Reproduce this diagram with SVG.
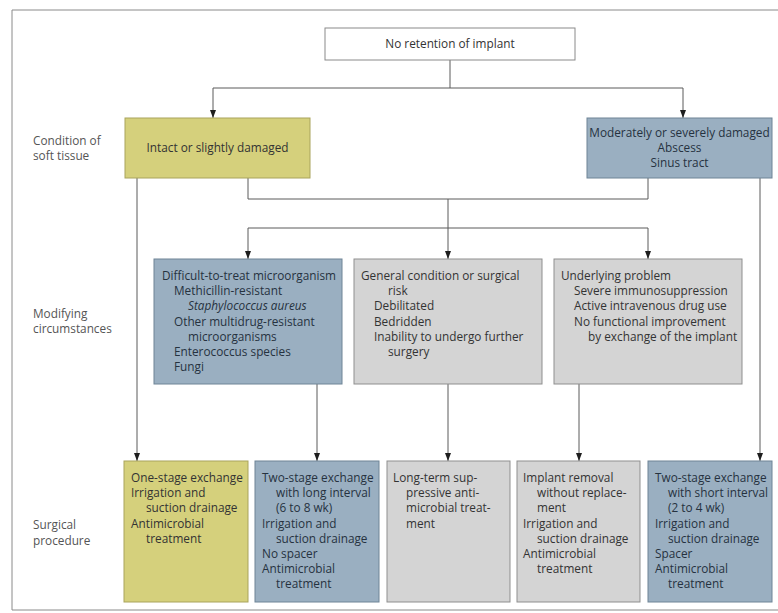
<svg xmlns="http://www.w3.org/2000/svg" width="778" height="613" viewBox="0 0 778 613">
<defs>
<marker id="ah" viewBox="0 0 8 6" refX="8" refY="3" markerWidth="8" markerHeight="6" orient="auto" markerUnits="userSpaceOnUse">
<path d="M0,0 L8,3 L0,6 Z" fill="#1e1e1e"/>
</marker>
<style>
text{font-family:"Open Sans","Noto Sans","DejaVu Sans",sans-serif;font-size:11.8px;fill:#333}
.lbl{fill:#555}
.c{text-anchor:middle}
.it{font-style:italic}
.white{fill:#fff;stroke:#8a8a8a;stroke-width:1}
.yel{fill:#d5d07c;stroke:#a9a45c;stroke-width:1}
.blu{fill:#9aafc1;stroke:#6e8496;stroke-width:1}
.gry{fill:#d4d4d4;stroke:#8f8f8f;stroke-width:1}
.bt{fill:#26323f}
.ln{fill:none;stroke:#5a5a5a;stroke-width:1}
.ar{marker-end:url(#ah)}
</style>
</defs>
<rect width="778" height="613" fill="#fff"/>
<path d="M780,10 H12 V610 H780" fill="none" stroke="#8a8a8a" stroke-width="1"/>

<g id="labels">
<text class="lbl" x="33" y="145">Condition of</text>
<text class="lbl" x="33" y="160">soft tissue</text>
<text class="lbl" x="33" y="318">Modifying</text>
<text class="lbl" x="33" y="333">circumstances</text>
<text class="lbl" x="33" y="529">Surgical</text>
<text class="lbl" x="33" y="545">procedure</text>
</g>

<g id="connectors">
<path class="ln" d="M450,60 V88"/>
<path class="ln" d="M213,88 H683"/>
<path class="ln ar" d="M213,88 V118"/>
<path class="ln ar" d="M683,88 V118"/>
<path class="ln" d="M248,178 V199 H648 V178"/>
<path class="ln" d="M448,199 V228"/>
<path class="ln" d="M248,228 H648"/>
<path class="ln ar" d="M248,228 V259"/>
<path class="ln ar" d="M448,228 V259"/>
<path class="ln ar" d="M648,228 V259"/>
<path class="ln ar" d="M137,178 V461"/>
<path class="ln ar" d="M760,178 V461"/>
<path class="ln ar" d="M317,384 V461"/>
<path class="ln ar" d="M448,384 V461"/>
<path class="ln ar" d="M579,384 V461"/>
</g>

<g id="n-top">
<rect class="white" x="325" y="28" width="250" height="32"/>
<text class="c" x="450" y="48">No retention of implant</text>
</g>

<g id="n-intact">
<rect class="yel" x="125" y="118" width="185" height="60"/>
<text class="c" x="217.5" y="152">Intact or slightly damaged</text>
</g>

<g id="n-damaged">
<rect class="blu" x="587" y="118" width="185" height="60"/>
<text class="c bt" x="679.5" y="137">Moderately or severely damaged</text>
<text class="c bt" x="679.5" y="152">Abscess</text>
<text class="c bt" x="679.5" y="167">Sinus tract</text>
</g>

<g id="n-micro">
<rect class="blu" x="154" y="259" width="188" height="125"/>
<text class="bt" x="162" y="280">Difficult-to-treat microorganism</text>
<text class="bt" x="174" y="295.2">Methicillin-resistant</text>
<text class="bt it" x="188" y="310.4">Staphylococcus aureus</text>
<text class="bt" x="174" y="325.6">Other multidrug-resistant</text>
<text class="bt" x="188" y="340.8">microorganisms</text>
<text class="bt" x="174" y="356">Enterococcus species</text>
<text class="bt" x="174" y="371.2">Fungi</text>
</g>

<g id="n-general">
<rect class="gry" x="354" y="259" width="188" height="125"/>
<text x="361" y="280">General condition or surgical</text>
<text x="388" y="295.2">risk</text>
<text x="374" y="310.4">Debilitated</text>
<text x="374" y="325.6">Bedridden</text>
<text x="374" y="340.8">Inability to undergo further</text>
<text x="388" y="356">surgery</text>
</g>

<g id="n-underlying">
<rect class="gry" x="554" y="259" width="188" height="125"/>
<text x="561" y="280">Underlying problem</text>
<text x="574" y="295.2">Severe immunosuppression</text>
<text x="574" y="310.4">Active intravenous drug use</text>
<text x="574" y="325.6">No functional improvement</text>
<text x="588" y="340.8">by exchange of the implant</text>
</g>

<g id="n-onestage">
<rect class="yel" x="124" y="461" width="124" height="141"/>
<text x="131" y="482">One-stage exchange</text>
<text x="131" y="497.2">Irrigation and</text>
<text x="146" y="512.4">suction drainage</text>
<text x="131" y="527.6">Antimicrobial</text>
<text x="146" y="542.8">treatment</text>
</g>

<g id="n-twolong">
<rect class="blu" x="255" y="461" width="124" height="141"/>
<text class="bt" x="262" y="482">Two-stage exchange</text>
<text class="bt" x="276" y="497.2">with long interval</text>
<text class="bt" x="276" y="512.4">(6 to 8 wk)</text>
<text class="bt" x="262" y="527.6">Irrigation and</text>
<text class="bt" x="276" y="542.8">suction drainage</text>
<text class="bt" x="262" y="558">No spacer</text>
<text class="bt" x="262" y="573.2">Antimicrobial</text>
<text class="bt" x="276" y="588.4">treatment</text>
</g>

<g id="n-suppressive">
<rect class="gry" x="387" y="461" width="123" height="141"/>
<text x="393" y="482">Long-term sup-</text>
<text x="406" y="497.2">pressive anti-</text>
<text x="406" y="512.4">microbial treat-</text>
<text x="406" y="527.6">ment</text>
</g>

<g id="n-removal">
<rect class="gry" x="517" y="461" width="123" height="141"/>
<text x="523" y="482">Implant removal</text>
<text x="537" y="497.2">without replace-</text>
<text x="537" y="512.4">ment</text>
<text x="523" y="527.6">Irrigation and</text>
<text x="537" y="542.8">suction drainage</text>
<text x="523" y="558">Antimicrobial</text>
<text x="537" y="573.2">treatment</text>
</g>

<g id="n-twoshort">
<rect class="blu" x="648" y="461" width="124" height="141"/>
<text class="bt" x="655" y="482">Two-stage exchange</text>
<text class="bt" x="668" y="497.2">with short interval</text>
<text class="bt" x="668" y="512.4">(2 to 4 wk)</text>
<text class="bt" x="655" y="527.6">Irrigation and</text>
<text class="bt" x="668" y="542.8">suction drainage</text>
<text class="bt" x="655" y="558">Spacer</text>
<text class="bt" x="655" y="573.2">Antimicrobial</text>
<text class="bt" x="668" y="588.4">treatment</text>
</g>
</svg>
